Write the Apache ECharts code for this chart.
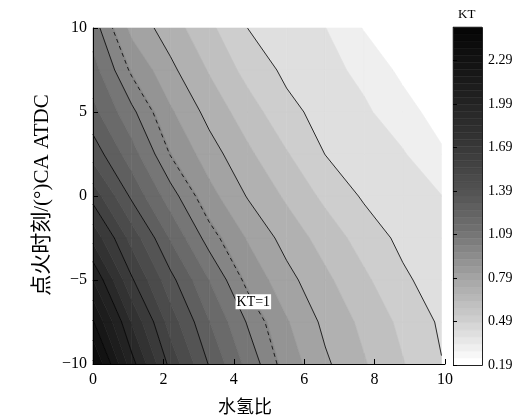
<!DOCTYPE html>
<html>
<head>
<meta charset="utf-8">
<script src="https://cdn.jsdelivr.net/npm/echarts@6/dist/echarts.min.js"></script>
<style>
  html, body { margin: 0; padding: 0; background: #fff; }
  #chart { width: 521px; height: 420px; }
</style>
</head>
<body>
<div id="chart"></div>
<script>
// Sample grid: water/hydrogen ratio (columns) and ignition timing in °CA ATDC (rows)
const waterRatio = [0, 1.1, 2.2, 3.3, 4.4, 5.5, 6.6, 7.7, 8.8, 9.9];
const ignitionTiming = [-10, -7.5, -5, -2.5, 0, 2.5, 5, 7.5, 10];

// KT at each ignition timing, one value per water ratio
const ktAtMinus10  = [2.51, 2.030, 1.657, 1.382, 1.156, 0.949, 0.807, 0.699, 0.596, 0.494];
const ktAtMinus7_5 = [2.30, 1.880, 1.544, 1.294, 1.079, 0.900, 0.765, 0.665, 0.565, 0.474];
const ktAtMinus5   = [2.09, 1.704, 1.423, 1.189, 0.967, 0.824, 0.712, 0.610, 0.508, 0.440];
const ktAtMinus2_5 = [1.86, 1.551, 1.280, 1.045, 0.880, 0.751, 0.648, 0.546, 0.465, 0.410];
const ktAt0        = [1.65, 1.369, 1.134, 0.927, 0.782, 0.674, 0.566, 0.477, 0.434, 0.392];
const ktAt2_5      = [1.45, 1.233, 0.994, 0.836, 0.710, 0.598, 0.488, 0.444, 0.399, 0.305];
const ktAt5        = [1.32, 1.114, 0.905, 0.756, 0.637, 0.519, 0.454, 0.407, 0.333, 0.242];
const ktAt7_5      = [1.23, 0.980, 0.814, 0.682, 0.555, 0.468, 0.423, 0.363, 0.265, 0.168];
const ktAt10       = [1.14, 0.860, 0.739, 0.613, 0.489, 0.440, 0.392, 0.284, 0.200, 0.120];

// Filled band boundaries, labelled isolines, the KT=1 isoline and the colour bar scale
const fillLevels = [0.19, 0.29, 0.39, 0.49, 0.59, 0.69, 0.79, 0.89, 0.99, 1.09, 1.19, 1.29,
                    1.39, 1.49, 1.59, 1.69, 1.79, 1.89, 1.99, 2.09, 2.19, 2.29, 2.39, 2.49];
const lineLevels = [0.49, 0.79, 1.09, 1.39, 1.69, 1.99, 2.29];
const dashedLevel = 1;
const colorbarTicks = [0.19, 0.49, 0.79, 1.09, 1.39, 1.69, 1.99, 2.29];
const ktRange = [0.19, 2.52];

// Gray colormap: KT value -> gray intensity (0 black, 255 white)
const cmapStops = [0.19, 0.49, 0.79, 1.09, 1.39, 1.69, 1.99, 2.29, 2.52];
const cmapGray  = [255, 205, 160, 114, 80, 54, 34, 17, 3];

const field = [ktAtMinus10, ktAtMinus7_5, ktAtMinus5, ktAtMinus2_5, ktAt0,
               ktAt2_5, ktAt5, ktAt7_5, ktAt10];

const SERIF = "'Liberation Serif', 'Times New Roman', 'Noto Sans CJK SC', serif";
const CMAP_SIZE = 48;

function grayAt(v) {
  if (v <= cmapStops[0]) return cmapGray[0];
  for (let k = 0; k < cmapStops.length - 1; k++) {
    if (v <= cmapStops[k + 1]) {
      const t = (v - cmapStops[k]) / (cmapStops[k + 1] - cmapStops[k]);
      return cmapGray[k] + t * (cmapGray[k + 1] - cmapGray[k]);
    }
  }
  return cmapGray[cmapGray.length - 1];
}
function cmapIndex(v) {
  let idx = Math.floor((v - ktRange[0]) / (ktRange[1] - ktRange[0]) * CMAP_SIZE + 1e-9);
  return Math.max(0, Math.min(CMAP_SIZE - 1, idx));
}
function colorOfIndex(idx) {
  const d = (ktRange[1] - ktRange[0]) / CMAP_SIZE;
  const g = Math.round(grayAt(ktRange[0] + idx * d));
  return 'rgb(' + g + ',' + g + ',' + g + ')';
}

// Sutherland-Hodgman clip of a polygon whose vertices carry a KT value
function clipPoly(poly, keep, level) {
  const out = [];
  const n = poly.length;
  for (let k = 0; k < n; k++) {
    const cur = poly[k];
    const prev = poly[(k + n - 1) % n];
    const cIn = keep(cur.v), pIn = keep(prev.v);
    if (cIn) {
      if (!pIn) out.push(lerpPt(prev, cur, level));
      out.push(cur);
    } else if (pIn) {
      out.push(lerpPt(prev, cur, level));
    }
  }
  return out;
}
function lerpPt(a, b, level) {
  const t = (level - a.v) / (b.v - a.v);
  return { x: a.x + t * (b.x - a.x), y: a.y + t * (b.y - a.y), v: level };
}

function corner(i, j) {
  return { x: waterRatio[i], y: ignitionTiming[j], v: field[j][i] };
}

// filled bands inside one grid cell
function cellBands(i, j) {
  const quad = [corner(i, j), corner(i + 1, j), corner(i + 1, j + 1), corner(i, j + 1)];
  const bands = [];
  for (let k = 0; k < fillLevels.length; k++) {
    const lo = fillLevels[k];
    const hi = k + 1 < fillLevels.length ? fillLevels[k + 1] : Infinity;
    let p = clipPoly(quad, v => v >= lo, lo);
    if (p.length < 3) continue;
    if (hi !== Infinity) p = clipPoly(p, v => v < hi, hi);
    if (p.length >= 3) bands.push({ level: lo, pts: p });
  }
  return bands;
}

// isolines by marching squares, chained into continuous polylines
function isolines(level) {
  const nx = waterRatio.length, ny = ignitionTiming.length;
  const segs = [];
  for (let j = 0; j < ny - 1; j++) {
    for (let i = 0; i < nx - 1; i++) {
      const edges = [
        ['h' + i + ',' + j, corner(i, j), corner(i + 1, j)],
        ['v' + (i + 1) + ',' + j, corner(i + 1, j), corner(i + 1, j + 1)],
        ['h' + i + ',' + (j + 1), corner(i, j + 1), corner(i + 1, j + 1)],
        ['v' + i + ',' + j, corner(i, j), corner(i, j + 1)]
      ];
      const hits = [];
      edges.forEach(e => {
        const a = e[1], b = e[2];
        if ((a.v >= level) !== (b.v >= level)) hits.push({ key: e[0], p: lerpPt(a, b, level) });
      });
      if (hits.length === 2) segs.push([hits[0], hits[1]]);
      else if (hits.length === 4) { segs.push([hits[0], hits[1]]); segs.push([hits[2], hits[3]]); }
    }
  }
  const byKey = {};
  segs.forEach((s, idx) => s.forEach(h => { (byKey[h.key] = byKey[h.key] || []).push(idx); }));
  const used = new Array(segs.length).fill(false);
  const chains = [];
  function nextFrom(key) {
    const list = byKey[key] || [];
    for (const idx of list) if (!used[idx]) return idx;
    return -1;
  }
  for (let s = 0; s < segs.length; s++) {
    if (used[s]) continue;
    used[s] = true;
    const chain = [segs[s][0], segs[s][1]];
    let idx;
    while ((idx = nextFrom(chain[chain.length - 1].key)) >= 0) {
      used[idx] = true;
      const seg = segs[idx];
      chain.push(seg[0].key === chain[chain.length - 1].key ? seg[1] : seg[0]);
    }
    while ((idx = nextFrom(chain[0].key)) >= 0) {
      used[idx] = true;
      const seg = segs[idx];
      chain.unshift(seg[0].key === chain[0].key ? seg[1] : seg[0]);
    }
    chains.push(chain.map(h => [h.p.x, h.p.y]));
  }
  return chains;
}

const cells = [];
for (let j = 0; j < ignitionTiming.length - 1; j++)
  for (let i = 0; i < waterRatio.length - 1; i++) cells.push([i, j]);

const solidLines = [];
lineLevels.forEach(L => isolines(L).forEach(c => solidLines.push(c)));
const dashedLines = isolines(dashedLevel);

// label anchor: where the KT=1 isoline crosses this ignition timing
const labelTiming = -6.3;
let labelPoint = null;
dashedLines.forEach(c => {
  for (let k = 0; k < c.length - 1 && !labelPoint; k++) {
    const a = c[k], b = c[k + 1];
    if ((a[1] - labelTiming) * (b[1] - labelTiming) <= 0 && a[1] !== b[1]) {
      const t = (labelTiming - a[1]) / (b[1] - a[1]);
      labelPoint = [a[0] + t * (b[0] - a[0]), labelTiming];
    }
  }
});

const colorbarSteps = [];
for (let k = 0; k < CMAP_SIZE; k++) colorbarSteps.push([k]);

const chart = echarts.init(document.getElementById('chart'), null, { renderer: 'canvas' });

const tickLabelStyle = { color: '#000', fontFamily: SERIF, fontSize: 16 };

chart.setOption({
  animation: false,
  backgroundColor: '#fff',
  textStyle: { fontFamily: SERIF },
  grid: [
    { left: 93, top: 28, width: 352, height: 336 },
    { left: 453, top: 27, width: 29, height: 338 }
  ],
  xAxis: [
    {
      gridIndex: 0, type: 'value', min: 0, max: 10, interval: 2, z: 10,
      axisLine: { onZero: false, lineStyle: { color: '#000', width: 1 } },
      axisTick: { inside: true, length: 5, lineStyle: { color: '#000' } },
      axisLabel: Object.assign({ margin: 8 }, tickLabelStyle),
      splitLine: { show: false }
    },
    { gridIndex: 1, type: 'value', min: 0, max: 1, show: false }
  ],
  yAxis: [
    {
      gridIndex: 0, type: 'value', min: -10, max: 10, interval: 5, z: 10,
      axisLine: { onZero: false, lineStyle: { color: '#000', width: 1 } },
      axisTick: { inside: true, length: 5, lineStyle: { color: '#000' } },
      axisLabel: Object.assign({
        margin: 6,
        formatter: v => String(v).replace('-', '\u2212')
      }, tickLabelStyle),
      splitLine: { show: false }
    },
    {
      gridIndex: 1, type: 'value', min: ktRange[0], max: ktRange[1], position: 'right', z: 10,
      axisLine: { show: false },
      axisTick: { show: true, inside: false, length: 4, customValues: colorbarTicks,
                  lineStyle: { color: '#000' } },
      axisLabel: { customValues: colorbarTicks, margin: 6, color: '#000', fontFamily: SERIF,
                   fontSize: 14, formatter: v => Number(v).toFixed(2) },
      splitLine: { show: false }
    }
  ],
  graphic: [
    { type: 'text', left: 458, top: 8,
      style: { text: 'KT', fill: '#000', font: '13px ' + SERIF } },
    { type: 'text', x: 245, y: 408,
      style: { text: '水氢比', fill: '#000', font: '18px ' + SERIF,
               align: 'center', verticalAlign: 'middle' } },
    { type: 'text', x: 42, y: 195, rotation: Math.PI / 2,
      style: { text: '点火时刻/(°)CA ATDC', fill: '#000', font: '21px ' + SERIF,
               align: 'center', verticalAlign: 'middle' } }
  ],
  series: [
    {
      // filled KT bands
      type: 'custom', xAxisIndex: 0, yAxisIndex: 0, silent: true, z: 1,
      data: cells,
      renderItem: function (params, api) {
        const i = api.value(0), j = api.value(1);
        const children = cellBands(i, j).map(b => {
          const col = colorOfIndex(cmapIndex(b.level));
          return {
            type: 'polygon',
            shape: { points: b.pts.map(p => api.coord([p.x, p.y])) },
            style: { fill: col, stroke: col, lineWidth: 0.6 }
          };
        });
        return { type: 'group', children: children };
      }
    },
    {
      // labelled isolines
      type: 'custom', xAxisIndex: 0, yAxisIndex: 0, silent: true, z: 3,
      data: solidLines.map((c, k) => [k]),
      renderItem: function (params, api) {
        const c = solidLines[params.dataIndex];
        return {
          type: 'polyline',
          shape: { points: c.map(p => api.coord(p)) },
          style: { stroke: '#000', lineWidth: 0.8, fill: null }
        };
      }
    },
    {
      // KT = 1 isoline
      type: 'custom', xAxisIndex: 0, yAxisIndex: 0, silent: true, z: 3,
      data: dashedLines.map((c, k) => [k]),
      renderItem: function (params, api) {
        const c = dashedLines[params.dataIndex];
        return {
          type: 'polyline',
          shape: { points: c.map(p => api.coord(p)) },
          style: { stroke: '#000', lineWidth: 0.8, fill: null, lineDash: [4, 3.5] }
        };
      }
    },
    {
      type: 'custom', xAxisIndex: 0, yAxisIndex: 0, silent: true, z: 4,
      data: labelPoint ? [labelPoint] : [],
      renderItem: function (params, api) {
        const p = api.coord([api.value(0), api.value(1)]);
        return {
          type: 'text',
          x: p[0], y: p[1],
          style: {
            text: 'KT=' + dashedLevel, fill: '#000', font: '14px ' + SERIF,
            align: 'center', verticalAlign: 'middle',
            backgroundColor: '#fff', padding: [1, 1, 0, 1]
          }
        };
      }
    },
    {
      // colour bar
      type: 'custom', xAxisIndex: 1, yAxisIndex: 1, silent: true, z: 1,
      data: colorbarSteps,
      renderItem: function (params, api) {
        const k = api.value(0);
        const d = (ktRange[1] - ktRange[0]) / CMAP_SIZE;
        const p0 = api.coord([0, ktRange[0] + k * d]);
        const p1 = api.coord([1, ktRange[0] + (k + 1) * d]);
        const col = colorOfIndex(k);
        return {
          type: 'rect',
          shape: { x: p0[0], y: p1[1], width: p1[0] - p0[0], height: p0[1] - p1[1] },
          style: { fill: col, stroke: col, lineWidth: 0.5 }
        };
      }
    },
    {
      type: 'custom', xAxisIndex: 1, yAxisIndex: 1, silent: true, z: 5,
      data: [[0]],
      renderItem: function (params, api) {
        const p0 = api.coord([0, ktRange[0]]);
        const p1 = api.coord([1, ktRange[1]]);
        return {
          type: 'rect',
          shape: { x: Math.round(p0[0]) + 0.5, y: Math.round(p1[1]) + 0.5,
                   width: Math.round(p1[0] - p0[0]), height: Math.round(p0[1] - p1[1]) },
          style: { fill: null, stroke: '#222', lineWidth: 1 }
        };
      }
    }
  ]
});
</script>
</body>
</html>
